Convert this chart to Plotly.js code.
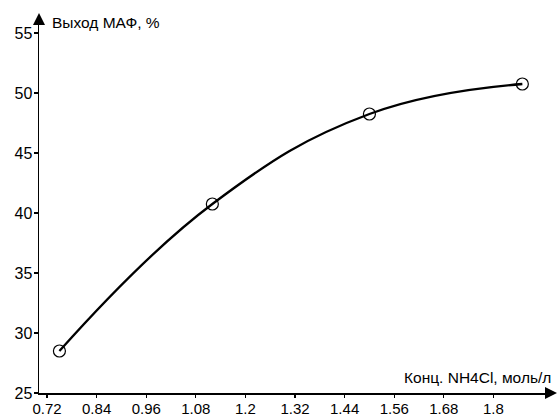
<!DOCTYPE html>
<html>
<head>
<meta charset="utf-8">
<script src="https://cdn.plot.ly/plotly-3.0.1.min.js"></script>
<style>html,body{margin:0;padding:0;background:#fff;}#chart{width:560px;height:419px;}</style>
</head>
<body>
<div id="chart"></div>
<script>
// Data
var concentration = [0.75, 1.12, 1.50, 1.87];      // Конц. NH4Cl, моль/л
var yieldMAF = [28.5, 40.75, 48.25, 50.75];         // Выход МАФ, %
var xTickValues = [0.72, 0.84, 0.96, 1.08, 1.2, 1.32, 1.44, 1.56, 1.68, 1.8];
var xTickLabels = ['0.72', '0.84', '0.96', '1.08', '1.2', '1.32', '1.44', '1.56', '1.68', '1.8'];
var yTickValues = [25, 30, 35, 40, 45, 50, 55];
var xTitle = 'Конц. NH4Cl, моль/л';
var yTitle = 'Выход МАФ, %';

var fontFamily = 'Liberation Sans, Arial, sans-serif';

var trace = {
  x: concentration,
  y: yieldMAF,
  type: 'scatter',
  mode: 'lines+markers',
  line: {color: '#000', width: 2.3, shape: 'spline', smoothing: 1.2},
  marker: {symbol: 'circle-open', size: 12, color: '#000', line: {color: '#000', width: 1.2}},
  hoverinfo: 'skip'
};

var layout = {
  width: 560,
  height: 419,
  margin: {l: 39, r: 15, t: 24, b: 26, pad: 0},
  paper_bgcolor: '#fff',
  plot_bgcolor: '#fff',
  showlegend: false,
  font: {family: fontFamily, size: 15.5, color: '#000'},
  xaxis: {
    range: [0.7006, 1.9248],
    tickmode: 'array',
    tickvals: xTickValues,
    ticktext: xTickLabels,
    ticks: 'outside',
    ticklen: 3,
    tickwidth: 1.2,
    tickcolor: '#000',
    showline: true,
    linecolor: '#000',
    linewidth: 1.5,
    showgrid: false,
    zeroline: false,
    ticklabelstandoff: -2,
    tickfont: {family: fontFamily, size: 15, color: '#000'}
  },
  yaxis: {
    range: [25, 55.75],
    tickmode: 'array',
    tickvals: yTickValues,
    ticks: 'outside',
    ticklen: 4,
    tickwidth: 1.2,
    tickcolor: '#000',
    showline: true,
    linecolor: '#000',
    linewidth: 1.5,
    showgrid: false,
    zeroline: false,
    ticklabelstandoff: -2,
    tickfont: {family: fontFamily, size: 16, color: '#000'}
  },
  annotations: [
    {
      xref: 'paper', yref: 'paper', x: 1 + 12 / 506, y: 0,
      ax: -13, ay: 0, text: '', showarrow: true,
      arrowhead: 2, arrowsize: 1.6, arrowwidth: 1.5, arrowcolor: '#000', standoff: 0
    },
    {
      xref: 'paper', yref: 'paper', x: 0, y: 1 + 11 / 369,
      ax: 0, ay: 13, text: '', showarrow: true,
      arrowhead: 2, arrowsize: 1.6, arrowwidth: 1.5, arrowcolor: '#000', standoff: 0
    },
    {
      xref: 'paper', yref: 'paper', x: 1 + 8 / 506, y: 0,
      yshift: 16, xanchor: 'right', yanchor: 'middle',
      text: xTitle, showarrow: false,
      font: {family: fontFamily, size: 15.5, color: '#000'}
    },
    {
      xref: 'paper', yref: 'paper', x: 0, y: 1,
      xshift: 11, yshift: 2, xanchor: 'left', yanchor: 'middle',
      text: yTitle, showarrow: false,
      font: {family: fontFamily, size: 15.5, color: '#000'}
    }
  ]
};

Plotly.newPlot('chart', [trace], layout, {displayModeBar: false, staticPlot: true});
</script>
</body>
</html>
